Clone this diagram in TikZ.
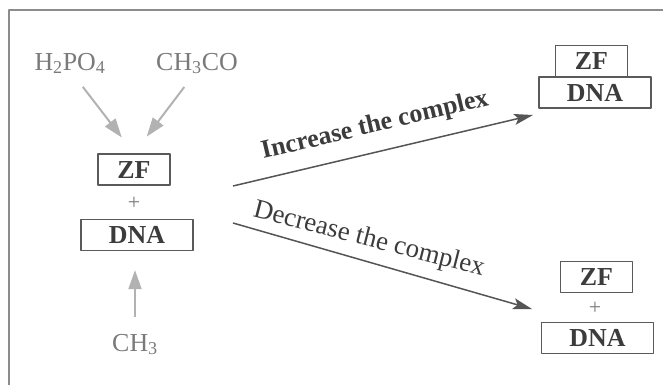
\documentclass[tikz,border=0pt]{standalone}
\usepackage{fontspec}
\setmainfont{Liberation Serif}
\usepackage{xcolor}
\usetikzlibrary{arrows.meta}
\definecolor{framegray}{HTML}{8C8C8C}
\definecolor{chemgray}{HTML}{7A7A7A}
\definecolor{reaggray}{HTML}{B2B2B2}
\definecolor{boxline}{HTML}{5A5A5A}
\definecolor{boxtext}{HTML}{3C3C3C}
\definecolor{pathgray}{HTML}{555555}

\begin{document}
\begin{tikzpicture}[x=1bp, y=-1bp, line join=round,
  chem/.style={text=chemgray, inner sep=0pt, text height=18bp, text depth=0bp,
    font=\fontsize{26}{28}\selectfont},
  plus/.style={text=chemgray, inner sep=0pt, font=\fontsize{22}{24}\selectfont},
  zfbox/.style={draw=boxline, line width=1.3bp, text=boxtext, inner sep=0pt,
    minimum width=72bp, minimum height=31bp, text height=17bp, text depth=0bp,
    font=\fontsize{26}{28}\selectfont\bfseries},
  dnabox/.style={zfbox, minimum width=112bp},
  reag/.style={reaggray, line width=2bp, -{Triangle[length=19bp,width=13bp]}},
  path/.style={pathgray, line width=1.5bp, -{Stealth[length=19bp,width=11bp,inset=4bp]}},
  lbl/.style={text=boxtext, inner sep=0pt}]
  \useasboundingbox (0,0) rectangle (663,384);
  \draw[framegray, line width=1.6bp] (680,10) -- (9,10) -- (9,400);

  \node[chem] (h2po4) at (70,61) {H\textsubscript{2}PO\textsubscript{4}};
  \node[chem] (ch3co) at (197,61) {CH\textsubscript{3}CO};
  \node[zfbox] (zf) at (134,169.5) {ZF};
  \node[plus] (plusL) at (134,203) {+};
  \node[dnabox] (dna) at (137,235) {DNA};
  \node[chem] (ch3) at (135,342) {CH\textsubscript{3}};

  \draw[reag, shorten <=21bp, shorten >=20bp] (h2po4.south) -- (zf.north);
  \draw[reag, shorten <=21bp, shorten >=21bp] (ch3co.south) -- (zf.north);
  \draw[reag, shorten <=16bp, shorten >=19bp] (ch3.north) -- (ch3.north |- dna.south);

  \node[zfbox] (zfB) at (591.5,61) {ZF};
  \node[dnabox] (dnaB) at (595,92.5) {DNA};

  \node[zfbox] (zfF) at (596.5,277) {ZF};
  \node[plus] (plusR) at (595,308) {+};
  \node[dnabox] (dnaF) at (597.5,338) {DNA};

  \coordinate (incS) at (233,186);
  \coordinate (incE) at (533,115);
  \coordinate (decS) at (233,223);
  \coordinate (decE) at (532,309);
  \draw[path] (incS) -- (incE);
  \draw[path] (decS) -- (decE);
  \node[lbl, rotate=13.3, font=\fontsize{26}{28}\selectfont\bfseries] (inc) at (375,126) {Increase the complex};
  \node[lbl, rotate=-14.3, font=\fontsize{27}{29}\selectfont] (dec) at (369,240) {Decrease the complex};
\end{tikzpicture}
\end{document}
